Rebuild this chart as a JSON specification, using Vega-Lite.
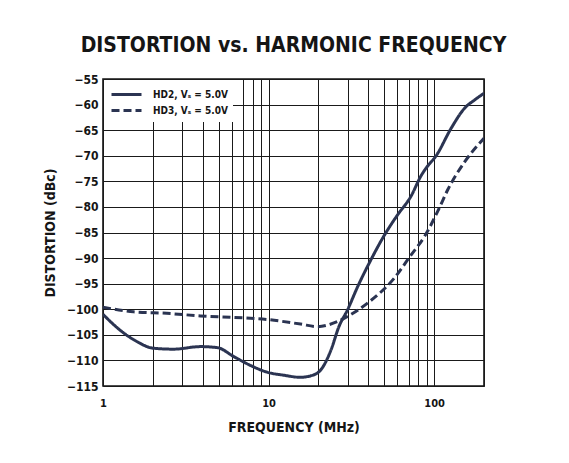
{
  "$schema": "https://vega.github.io/schema/vega-lite/v6.json",
  "width": 381,
  "height": 307,
  "autosize": {"type": "none"},
  "padding": {"left": 103, "top": 79, "right": 85, "bottom": 77},
  "background": "white",
  "title": {
    "text": "DISTORTION vs. HARMONIC FREQUENCY",
    "fontSize": 21,
    "fontWeight": "bold",
    "font": "DejaVu Sans Condensed, Liberation Sans Narrow, sans-serif",
    "color": "#151515",
    "anchor": "middle",
    "baseline": "alphabetic",
    "offset": 0
  },
  "config": {
    "font": "DejaVu Sans Condensed, Liberation Sans Narrow, sans-serif",
    "view": {"stroke": "#151515", "strokeWidth": 1.6},
    "axis": {
      "labelFont": "DejaVu Sans Condensed, Liberation Sans Narrow, sans-serif",
      "titleFont": "DejaVu Sans Condensed, Liberation Sans Narrow, sans-serif",
      "labelFontWeight": "bold",
      "titleFontWeight": "bold",
      "labelColor": "#151515",
      "titleColor": "#151515",
      "gridColor": "#1a1a1a",
      "gridOpacity": 1,
      "gridWidth": 1,
      "domain": false,
      "ticks": false
    }
  },
  "data": {
    "values": [
      {"series": "HD2, Vₛ = 5.0V", "f": 1.0, "d": -101.0},
      {"series": "HD2, Vₛ = 5.0V", "f": 1.27, "d": -104.1},
      {"series": "HD2, Vₛ = 5.0V", "f": 1.6, "d": -106.3},
      {"series": "HD2, Vₛ = 5.0V", "f": 2.0, "d": -107.6},
      {"series": "HD2, Vₛ = 5.0V", "f": 2.67, "d": -107.8},
      {"series": "HD2, Vₛ = 5.0V", "f": 3.87, "d": -107.3},
      {"series": "HD2, Vₛ = 5.0V", "f": 4.9, "d": -107.5},
      {"series": "HD2, Vₛ = 5.0V", "f": 6.2, "d": -109.3},
      {"series": "HD2, Vₛ = 5.0V", "f": 7.8, "d": -111.0},
      {"series": "HD2, Vₛ = 5.0V", "f": 9.8, "d": -112.3},
      {"series": "HD2, Vₛ = 5.0V", "f": 12.4, "d": -112.9},
      {"series": "HD2, Vₛ = 5.0V", "f": 15.5, "d": -113.3},
      {"series": "HD2, Vₛ = 5.0V", "f": 18.0, "d": -113.0},
      {"series": "HD2, Vₛ = 5.0V", "f": 20.6, "d": -111.9},
      {"series": "HD2, Vₛ = 5.0V", "f": 23.8, "d": -108.0},
      {"series": "HD2, Vₛ = 5.0V", "f": 26.6, "d": -103.4},
      {"series": "HD2, Vₛ = 5.0V", "f": 30.0, "d": -100.1},
      {"series": "HD2, Vₛ = 5.0V", "f": 34.5, "d": -95.6},
      {"series": "HD2, Vₛ = 5.0V", "f": 41.4, "d": -90.4},
      {"series": "HD2, Vₛ = 5.0V", "f": 49.9, "d": -85.6},
      {"series": "HD2, Vₛ = 5.0V", "f": 60.0, "d": -81.6},
      {"series": "HD2, Vₛ = 5.0V", "f": 72.5, "d": -77.9},
      {"series": "HD2, Vₛ = 5.0V", "f": 83.4, "d": -73.9},
      {"series": "HD2, Vₛ = 5.0V", "f": 89.4, "d": -72.4},
      {"series": "HD2, Vₛ = 5.0V", "f": 102.8, "d": -70.0},
      {"series": "HD2, Vₛ = 5.0V", "f": 126.8, "d": -64.6},
      {"series": "HD2, Vₛ = 5.0V", "f": 152.8, "d": -60.7},
      {"series": "HD2, Vₛ = 5.0V", "f": 175.5, "d": -59.1},
      {"series": "HD2, Vₛ = 5.0V", "f": 200.0, "d": -57.8},
      {"series": "HD3, Vₛ = 5.0V", "f": 1.0, "d": -99.6},
      {"series": "HD3, Vₛ = 5.0V", "f": 1.53, "d": -100.5},
      {"series": "HD3, Vₛ = 5.0V", "f": 2.43, "d": -100.8},
      {"series": "HD3, Vₛ = 5.0V", "f": 3.87, "d": -101.3},
      {"series": "HD3, Vₛ = 5.0V", "f": 6.17, "d": -101.6},
      {"series": "HD3, Vₛ = 5.0V", "f": 9.8, "d": -102.0},
      {"series": "HD3, Vₛ = 5.0V", "f": 15.6, "d": -102.9},
      {"series": "HD3, Vₛ = 5.0V", "f": 19.7, "d": -103.4},
      {"series": "HD3, Vₛ = 5.0V", "f": 26.1, "d": -102.4},
      {"series": "HD3, Vₛ = 5.0V", "f": 30.0, "d": -101.4},
      {"series": "HD3, Vₛ = 5.0V", "f": 39.6, "d": -98.8},
      {"series": "HD3, Vₛ = 5.0V", "f": 57.5, "d": -93.9},
      {"series": "HD3, Vₛ = 5.0V", "f": 72.5, "d": -89.4},
      {"series": "HD3, Vₛ = 5.0V", "f": 87.4, "d": -85.8},
      {"series": "HD3, Vₛ = 5.0V", "f": 106.0, "d": -80.6},
      {"series": "HD3, Vₛ = 5.0V", "f": 121.0, "d": -76.6},
      {"series": "HD3, Vₛ = 5.0V", "f": 152.8, "d": -71.2},
      {"series": "HD3, Vₛ = 5.0V", "f": 200.0, "d": -66.6}
    ]
  },
  "mark": {"type": "line", "interpolate": "monotone", "strokeWidth": 3, "color": "#2b3452", "clip": true},
  "encoding": {
    "x": {
      "field": "f",
      "type": "quantitative",
      "scale": {"type": "log", "domain": [1, 200], "nice": false},
      "axis": {
        "values": [1,2,3,4,5,6,7,8,9,10,20,30,40,50,60,70,80,90,100,200],
        "labelExpr": "datum.value == 1 || datum.value == 10 || datum.value == 100 ? datum.label : ''",
        "format": "d",
        "labelFontSize": 11,
        "labelPadding": 11,
        "labelOverlap": false,
        "labelFlush": false,
        "title": "FREQUENCY (MHz)",
        "titleFontSize": 14,
        "titlePadding": 12
      }
    },
    "y": {
      "field": "d",
      "type": "quantitative",
      "scale": {"domain": [-115, -55], "nice": false},
      "axis": {
        "values": [-115,-110,-105,-100,-95,-90,-85,-80,-75,-70,-65,-60,-55],
        "labelFontSize": 12,
        "labelPadding": 5,
        "labelOverlap": false,
        "labelFlush": false,
        "title": "DISTORTION (dBc)",
        "titleFontSize": 14,
        "titlePadding": 9
      }
    },
    "strokeDash": {
      "field": "series",
      "type": "nominal",
      "scale": {"domain": ["HD2, Vₛ = 5.0V", "HD3, Vₛ = 5.0V"], "range": [[1, 0], [8, 4]]},
      "legend": {
        "title": null,
        "orient": "top-left",
        "offset": 1,
        "fillColor": "white",
        "padding": 5,
        "symbolType": "M-0.875,0H2.875",
        "symbolSize": 256,
        "symbolStrokeWidth": 3,
        "symbolStrokeColor": "#2b3452",
        "symbolFillColor": "transparent",
        "labelFontSize": 10,
        "labelFontWeight": "bold",
        "labelColor": "#151515",
        "labelOffset": 25,
        "rowPadding": 0
      }
    }
  }
}
